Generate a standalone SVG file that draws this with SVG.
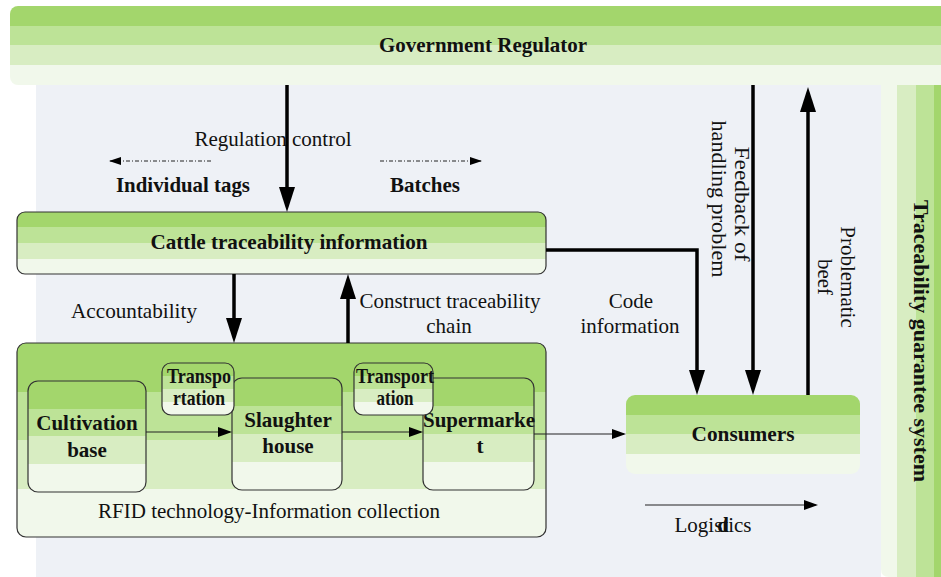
<svg xmlns="http://www.w3.org/2000/svg" width="941" height="577" viewBox="0 0 941 577">
<defs>
<linearGradient id="bands" x1="0" y1="0" x2="0" y2="1">
<stop offset="0" stop-color="#a3d66c"/><stop offset="0.25" stop-color="#a3d66c"/>
<stop offset="0.25" stop-color="#bde397"/><stop offset="0.5" stop-color="#bde397"/>
<stop offset="0.5" stop-color="#d8edc2"/><stop offset="0.75" stop-color="#d8edc2"/>
<stop offset="0.75" stop-color="#f1f8eb"/><stop offset="1" stop-color="#f1f8eb"/>
</linearGradient>
<linearGradient id="bandsH" x1="0" y1="0" x2="1" y2="0">
<stop offset="0" stop-color="#f1f8eb"/><stop offset="0.267" stop-color="#f1f8eb"/>
<stop offset="0.267" stop-color="#d8edc2"/><stop offset="0.583" stop-color="#d8edc2"/>
<stop offset="0.583" stop-color="#bde397"/><stop offset="0.883" stop-color="#bde397"/>
<stop offset="0.883" stop-color="#a3d66c"/><stop offset="1" stop-color="#a3d66c"/>
</linearGradient>
<marker id="ahThick" markerUnits="userSpaceOnUse" markerWidth="25" markerHeight="16" refX="19" refY="8" orient="auto">
<path d="M0,0 L25,8 L0,16 z" fill="#000"/>
</marker>
<marker id="ahThin" markerUnits="userSpaceOnUse" markerWidth="14" markerHeight="10" refX="12" refY="5" orient="auto">
<path d="M0,0 L14,5 L0,10 z" fill="#000"/>
</marker>
<marker id="ahDash" markerUnits="userSpaceOnUse" markerWidth="12" markerHeight="8" refX="11" refY="4" orient="auto">
<path d="M0,0 L12,4 L0,8 z" fill="#000"/>
</marker>
</defs>
<style>
.box{fill:url(#bands);stroke:#333;stroke-width:1.2}
.nb{fill:url(#bands);stroke:none}
.t{font-family:'Liberation Serif','DejaVu Serif',serif;font-size:21px;fill:#111}
.b{font-weight:bold}
.thick{stroke:#000;stroke-width:3.5;fill:none;marker-end:url(#ahThick)}
.thin{stroke:#222;stroke-width:1.2;fill:none;marker-end:url(#ahThin)}
.dash{stroke:#222;stroke-width:1;fill:none;stroke-dasharray:4 2 1 2;marker-end:url(#ahDash)}
</style>

<rect x="36" y="77" width="845" height="510" rx="8" fill="#eef1f6"/>

<g id="traceability-guarantee-system">
<path d="M881,83 H941 V577 H889 Q881,577 881,569 Z" fill="url(#bandsH)"/>
<text class="t b" font-size="22" transform="translate(914,341) rotate(90)" text-anchor="middle" textLength="282" lengthAdjust="spacingAndGlyphs">Traceability guarantee system</text>
</g>

<g id="government-regulator">
<rect class="nb" x="10" y="6" width="960" height="79" rx="8"/>
<text class="t b" font-size="23" x="483" y="52" text-anchor="middle" textLength="208" lengthAdjust="spacingAndGlyphs">Government Regulator</text>
</g>

<g id="cattle-traceability-information">
<rect class="box" x="17" y="212" width="529" height="62" rx="8"/>
<text class="t b" x="289" y="249" text-anchor="middle" textLength="277" lengthAdjust="spacingAndGlyphs">Cattle traceability information</text>
</g>

<g id="rfid-collection">
<rect class="box" x="17" y="343" width="529" height="194" rx="9"/>
<text class="t" x="269" y="518" text-anchor="middle" textLength="342" lengthAdjust="spacingAndGlyphs">RFID technology-Information collection</text>
</g>

<g id="cultivation-base">
<rect class="box" x="28" y="381" width="118" height="111" rx="10"/>
<text class="t b" x="87" y="430" text-anchor="middle">Cultivation</text>
<text class="t b" x="87" y="457" text-anchor="middle">base</text>
</g>

<g id="slaughter-house">
<rect class="box" x="232" y="378" width="110" height="112" rx="10"/>
<text class="t b" x="288" y="427" text-anchor="middle">Slaughter</text>
<text class="t b" x="288" y="453" text-anchor="middle">house</text>
</g>

<g id="supermarket">
<rect class="box" x="423" y="378" width="111" height="112" rx="10"/>
<text class="t b" x="479" y="427" text-anchor="middle" textLength="112" lengthAdjust="spacingAndGlyphs">Supermarke</text>
<text class="t b" x="480" y="453" text-anchor="middle">t</text>
</g>

<g id="transportation-1">
<rect class="box" x="162" y="363" width="72" height="52" rx="9"/>
<text class="t b" font-size="18" x="199" y="383" text-anchor="middle" textLength="64" lengthAdjust="spacingAndGlyphs">Transpo</text>
<text class="t b" font-size="18" x="199" y="405" text-anchor="middle" textLength="52" lengthAdjust="spacingAndGlyphs">rtation</text>
</g>

<g id="transportation-2">
<rect class="box" x="354" y="363" width="79" height="52" rx="9"/>
<text class="t b" font-size="18" x="395" y="383" text-anchor="middle" textLength="78" lengthAdjust="spacingAndGlyphs">Transport</text>
<text class="t b" font-size="18" x="395" y="405" text-anchor="middle" textLength="37" lengthAdjust="spacingAndGlyphs">ation</text>
</g>

<g id="consumers">
<rect class="nb" x="626" y="395" width="234" height="79" rx="9"/>
<text class="t b" x="743" y="441" text-anchor="middle" textLength="103" lengthAdjust="spacingAndGlyphs">Consumers</text>
</g>

<g id="labels">
<text class="t" x="273" y="146" text-anchor="middle" textLength="157" lengthAdjust="spacingAndGlyphs">Regulation control</text>
<text class="t b" x="183" y="192" text-anchor="middle" textLength="134" lengthAdjust="spacingAndGlyphs">Individual tags</text>
<text class="t b" x="425" y="192" text-anchor="middle">Batches</text>
<text class="t" x="134" y="318" text-anchor="middle" textLength="126" lengthAdjust="spacingAndGlyphs">Accountability</text>
<text class="t" x="450" y="308" text-anchor="middle" textLength="181" lengthAdjust="spacingAndGlyphs">Construct traceability</text>
<text class="t" x="449" y="333" text-anchor="middle">chain</text>
<text class="t" x="631" y="308" text-anchor="middle">Code</text>
<text class="t" x="630" y="333" text-anchor="middle">information</text>
<text class="t" transform="translate(735,204) rotate(90)" text-anchor="middle" textLength="115" lengthAdjust="spacingAndGlyphs">Feedback of</text>
<text class="t" transform="translate(712,199) rotate(90)" text-anchor="middle" textLength="157" lengthAdjust="spacingAndGlyphs">handling problem</text>
<text class="t" transform="translate(841,277) rotate(90)" text-anchor="middle">Problematic</text>
<text class="t" transform="translate(818,277) rotate(90)" text-anchor="middle">beef</text>
<text class="t" x="713" y="532" text-anchor="middle" textLength="77" lengthAdjust="spacingAndGlyphs">Logistics</text>
<text class="t b" x="723" y="532" text-anchor="middle">d</text>
</g>

<g id="connectors">
<line class="thick" x1="287" y1="85" x2="287" y2="206"/>
<line class="thick" x1="234" y1="274" x2="234" y2="337"/>
<line class="thick" x1="348" y1="343" x2="348" y2="280"/>
<polyline class="thick" points="546,250 697,250 697,389"/>
<line class="thick" x1="753" y1="85" x2="753" y2="389"/>
<line class="thick" x1="808" y1="395" x2="808" y2="93"/>
<line class="dash" x1="211" y1="161" x2="110" y2="161"/>
<line class="dash" x1="380" y1="161" x2="481" y2="161"/>
<line class="thin" x1="146" y1="432" x2="230" y2="432"/>
<line class="thin" x1="342" y1="432" x2="421" y2="432"/>
<line class="thin" x1="534" y1="434" x2="624" y2="434"/>
<line class="thin" x1="645" y1="505" x2="816" y2="505"/>
</g>
</svg>
